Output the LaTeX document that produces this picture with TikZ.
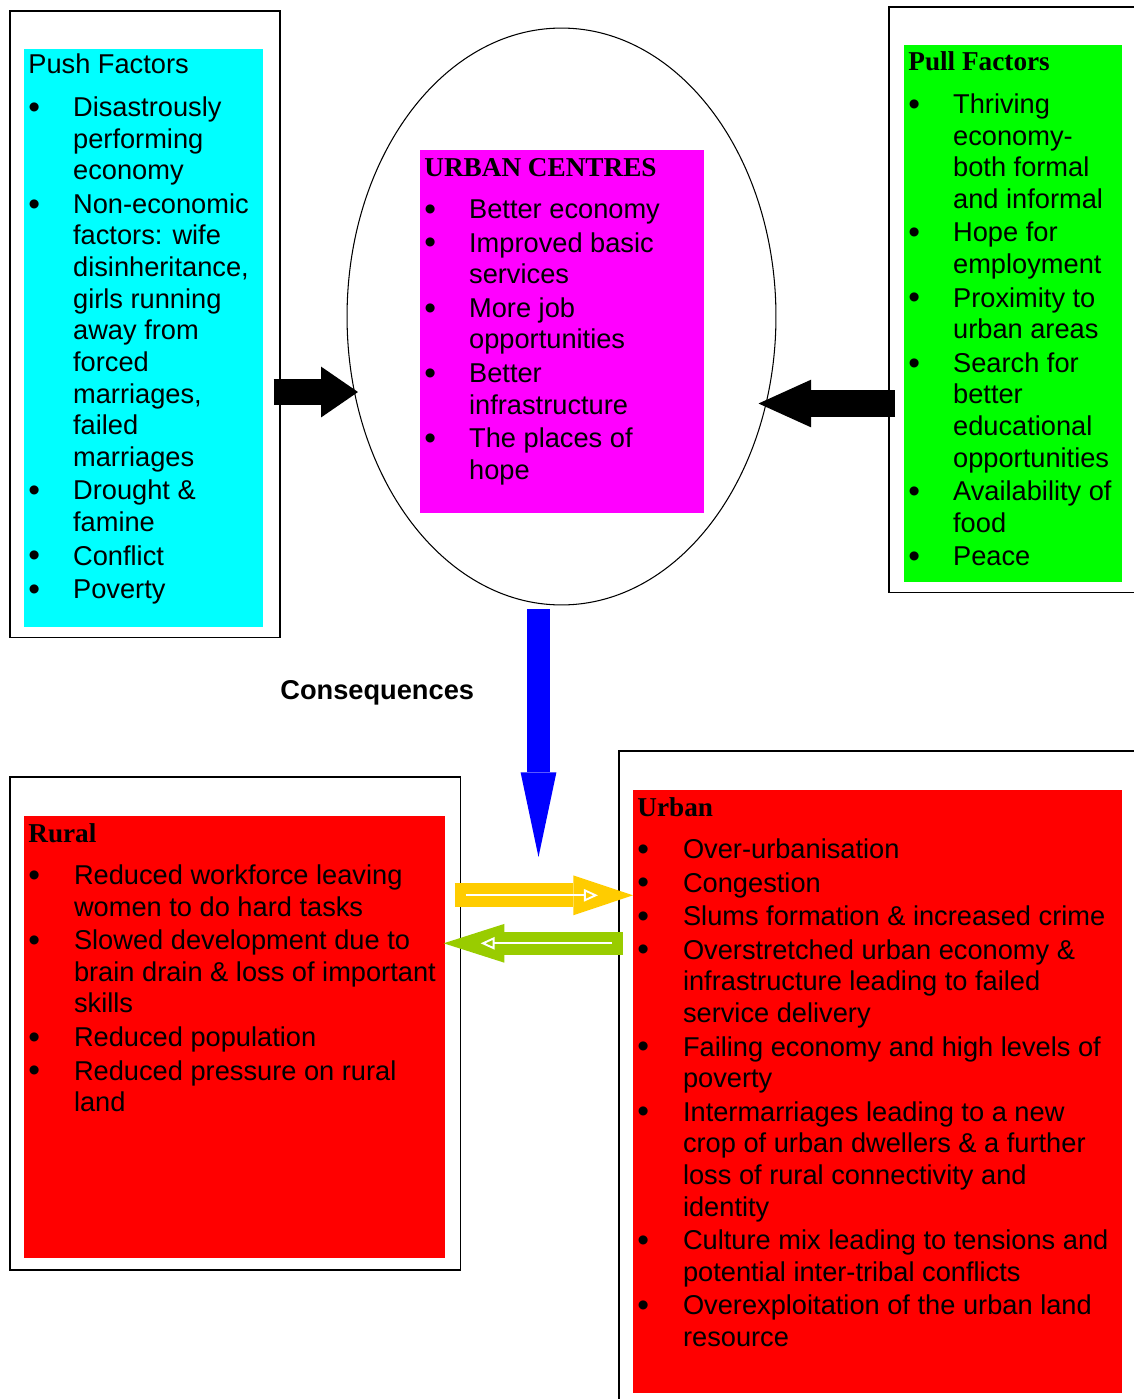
\documentclass[tikz,border=0pt]{standalone}
\usepackage{fontspec}
\setmainfont{Liberation Sans}
\newfontfamily\headfont{Liberation Serif}
\usetikzlibrary{arrows.meta, calc, shapes.geometric}
\definecolor{pushCyan}{RGB}{0,255,255}
\definecolor{centreMagenta}{RGB}{255,0,255}
\definecolor{pullGreen}{RGB}{0,255,0}
\definecolor{resultRed}{RGB}{255,0,0}
\definecolor{flowBlue}{RGB}{0,0,255}
\definecolor{flowYellow}{RGB}{255,204,0}
\definecolor{flowLime}{RGB}{153,204,0}
\newcommand{\listhead}[1]{\multicolumn{2}{@{}l@{}}{#1}\\[6.2pt]}
\newcommand{\bul}{\raisebox{-1pt}{\fontsize{19}{18}\selectfont\textbullet}}

\begin{document}
\begin{tikzpicture}[x=0.02cm, y=-0.02cm,
    frame/.style={draw, line width=0.9pt, anchor=north west, inner sep=0pt},
    panel/.style={fill=#1, anchor=north west, inner sep=0pt},
    list/.style={anchor=base west, inner sep=0pt, align=left, font=\fontsize{15.5}{18}\selectfont},
    fatblack/.style={line width=15.3pt, black},
    fatwhite/.style={white, line width=1.1pt}]
    \useasboundingbox (0,0) rectangle (1133,1399);

    % outer frames and coloured panels
    \node[frame, minimum width=5.4cm, minimum height=12.54cm] (pushbox) at (9,10) {};
    \node[panel=pushCyan, minimum width=4.78cm, minimum height=11.56cm] (pushfill) at (24,49) {};
    \node[frame, minimum width=5.04cm, minimum height=11.72cm] (pullbox) at (888,6) {};
    \node[panel=pullGreen, minimum width=4.36cm, minimum height=10.74cm] (pullfill) at (904,45) {};
    \node[draw, ellipse, line width=0.6pt, inner sep=0pt, minimum width=8.58cm, minimum height=11.54cm] (centres) at (561.5,316.5) {};
    \node[panel=centreMagenta, minimum width=5.68cm, minimum height=7.26cm] (centrefill) at (420,150) {};
    \node[frame, minimum width=9.02cm, minimum height=9.86cm] (ruralbox) at (9,776) {};
    \node[panel=resultRed, minimum width=8.42cm, minimum height=8.84cm] (ruralfill) at (24,816) {};
    \node[frame, minimum width=10.44cm, minimum height=13.2cm] (urbanbox) at (618,750) {};
    \node[panel=resultRed, minimum width=9.78cm, minimum height=12.06cm] (urbanfill) at (633,790) {};

    % lists
    \node[list] (push) at (28,74) {\begin{tabular}[t]{@{}p{25.5pt}@{}l@{}}
        \listhead{Push Factors}
        \bul & Disastrously\\ & performing\\ & economy\\[1.1pt]
        \bul & Non-economic\\ & factors: wife\\ & disinheritance,\\ & girls running\\ & away from\\ & forced\\ & marriages,\\ & failed\\ & marriages\\[1.1pt]
        \bul & Drought \&\\ & famine\\[1.1pt]
        \bul & Conflict\\[1.1pt]
        \bul & Poverty
    \end{tabular}};
    \node[list] (centrelist) at (424,176) {\begin{tabular}[t]{@{}p{25.5pt}@{}l@{}}
        \listhead{\headfont\bfseries URBAN CENTRES}
        \bul & Better economy\\[1.1pt]
        \bul & Improved basic\\ & services\\[1.1pt]
        \bul & More job\\ & opportunities\\[1.1pt]
        \bul & Better\\ & infrastructure\\[1.1pt]
        \bul & The places of\\ & hope
    \end{tabular}};
    \node[list] (pull) at (908,71) {\begin{tabular}[t]{@{}p{25.5pt}@{}l@{}}
        \listhead{\headfont\bfseries Pull Factors}
        \bul & Thriving\\ & economy-\\ & both formal\\ & and informal\\[1.1pt]
        \bul & Hope for\\ & employment\\[1.1pt]
        \bul & Proximity to\\ & urban areas\\[1.1pt]
        \bul & Search for\\ & better\\ & educational\\ & opportunities\\[1.1pt]
        \bul & Availability of\\ & food\\[1.1pt]
        \bul & Peace
    \end{tabular}};
    \node[list] (rural) at (28,842) {\begin{tabular}[t]{@{}p{26pt}@{}l@{}}
        \listhead{\headfont\bfseries Rural}
        \bul & Reduced workforce leaving\\ & women to do hard tasks\\[1.1pt]
        \bul & Slowed development due to\\ & brain drain \& loss of important\\ & skills\\[1.1pt]
        \bul & Reduced population\\[1.1pt]
        \bul & Reduced pressure on rural\\ & land
    \end{tabular}};
    \node[list] (urban) at (637,816) {\begin{tabular}[t]{@{}p{26pt}@{}l@{}}
        \listhead{\headfont\bfseries Urban}
        \bul & Over-urbanisation\\[1.1pt]
        \bul & Congestion\\[1.1pt]
        \bul & Slums formation \& increased crime\\[1.1pt]
        \bul & Overstretched urban economy \&\\ & infrastructure leading to failed\\ & service delivery\\[1.1pt]
        \bul & Failing economy and high levels of\\ & poverty\\[1.1pt]
        \bul & Intermarriages leading to a new\\ & crop of urban dwellers \& a further\\ & loss of rural connectivity and\\ & identity\\[1.1pt]
        \bul & Culture mix leading to tensions and\\ & potential inter-tribal conflicts\\[1.1pt]
        \bul & Overexploitation of the urban land\\ & resource
    \end{tabular}};
    \node[list, font=\fontsize{15.5}{18}\selectfont\bfseries] (conseq) at (280,699) {Consequences};
    \coordinate (conseqend) at (538.5,857);

    % arrows
    \draw[fatblack, -{Triangle[length=21pt, width=28.9pt, line width=0pt]}]
        ($(pushbox.east |- centres.-160)+(-7,0)$) -- ($(centres.-160)+(4,0)$);
    \draw[fatblack, -{Triangle[length=30pt, width=27.2pt, line width=0pt]}]
        ($(pullbox.west |- centres.-23)+(7,0)$) -- ($(centres.-23)+(-8,0)$);
    \draw[flowBlue, line width=13pt, -{Triangle[length=48.2pt, width=20.4pt, line width=0pt]}]
        ($(centres.south)+(-23,4)$) -- (conseqend);
    \draw[flowYellow, line width=13.6pt, -{Triangle[length=34pt, width=22.7pt, line width=0pt]}]
        ($(ruralfill.east)+(9,-142)$) coordinate (ytail) -- (ytail -| urbanfill.west);
    \draw[fatwhite, -{Triangle[open, length=8pt, width=7pt]}]
        ($(ytail)+(11,0)$) -- ($(ytail -| urbanfill.west)+(-35,0)$);
    \draw[flowLime, line width=13pt, -{Triangle[length=34.6pt, width=22.1pt, line width=0pt]}]
        ($(urbanfill.west)+(-10,-148.5)$) coordinate (gtail) -- ($(gtail -| ruralfill.east)+(-2,0)$);
    \draw[fatwhite, -{Triangle[open, length=8pt, width=7pt]}]
        ($(gtail)+(-11,0)$) -- ($(gtail -| ruralfill.east)+(35,0)$);
\end{tikzpicture}
\end{document}
